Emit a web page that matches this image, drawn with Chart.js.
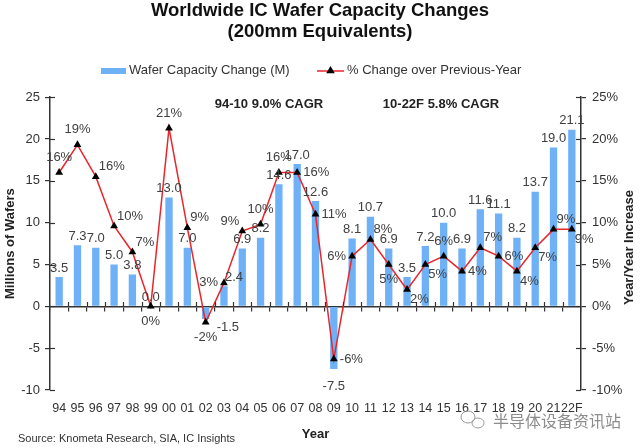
<!DOCTYPE html>
<html>
<head>
<meta charset="utf-8">
<title>Worldwide IC Wafer Capacity Changes</title>
<script src="https://cdn.jsdelivr.net/npm/chart.js@4.4.1/dist/chart.umd.min.js"></script>
<style>
  body { margin: 0; background: #fff; }
  #wrap { width: 640px; height: 448px; }
</style>
</head>
<body>
<div id="wrap"><canvas id="graficoWafer" width="640" height="448"></canvas></div>
<script>
const years = ["94", "95", "96", "97", "98", "99", "00", "01", "02", "03", "04", "05", "06", "07", "08",
  "09", "10", "11", "12", "13", "14", "15", "16", "17", "18", "19", "20", "21", "22F"];

// millions of 200mm-equivalent wafers added per year
const capacityChange = [3.5, 7.3, 7.0, 5.0, 3.8, 0.0, 13.0, 7.0, -1.5, 2.4, 6.9, 8.2, 14.6, 17.0, 12.6,
  -7.5, 8.1, 10.7, 6.9, 3.5, 7.2, 10.0, 6.9, 11.6, 11.1, 8.2, 13.7, 19.0, 21.1];

// % change over previous year
const pctChange = [16.0, 19.3, 15.5, 9.6, 6.5, 0.0, 21.3, 9.4, -1.9, 2.8, 9.0, 9.8, 16.0, 16.0, 11.0,
  -6.3, 6.0, 8.0, 5.0, 2.0, 5.0, 6.0, 4.2, 7.0, 6.0, 4.2, 7.0, 9.2, 9.2];

const yTicks = [-10, -5, 0, 5, 10, 15, 20, 25];

// where each value label sits relative to its mark
const barLabelSide = ["n", "n", "n", "n", "n", "n", "n", "n", "se", "ne", "n", "n", "n", "n", "n",
  "s", "n", "n", "n", "n", "n", "n", "n", "n", "n", "n", "n", "n", "n"];
const lineLabelSide = ["n", "n", "ne", "ne", "ne", "s", "n", "ne", "s", "w", "nw", "n", "n", "e", "e",
  "e", "w", "ne", "s", "se", "se", "n", "e", "ne", "e", "se", "se", "ne", "se"];

const FONT = "'Liberation Sans', Arial, sans-serif";
const BLUE = "#6FB1F7";
const RED = "#E8262C";
const TXT = "#404040";

function triangulo(ctx, x, y, r) {
  ctx.beginPath();
  ctx.moveTo(x, y - r);
  ctx.lineTo(x + r * 0.95, y + r * 0.6);
  ctx.lineTo(x - r * 0.95, y + r * 0.6);
  ctx.closePath();
  ctx.fill();
}

function textoLado(ctx, txt, x, y, lado, pos) {
  const dx = lado.includes("e") ? 1 : lado.includes("w") ? -1 : 0;
  const dy = lado.includes("n") ? -1 : lado.includes("s") ? 1 : 0;
  ctx.textAlign = dx > 0 ? "left" : dx < 0 ? "right" : "center";
  ctx.textBaseline = "middle";
  const diag = dx !== 0 && dy !== 0;
  const ox = dx === 0 ? 0 : dx * (diag ? pos.dx || 0 : pos.ex || 0);
  const oy = dy === 0 ? 0 : dy * (diag ? pos.dy || 0 : pos.ny || 0);
  ctx.fillText(txt, x + ox, y + oy);
}

const rotulos = {
  id: "rotulos",
  afterDatasetsDraw(chart) {
    const ctx = chart.ctx;
    ctx.save();
    ctx.font = "13px " + FONT;
    ctx.fillStyle = TXT;
    chart.getDatasetMeta(0).data.forEach((bar, i) => {
      const lado = barLabelSide[i];
      const v = capacityChange[i];
      if (lado === "n") textoLado(ctx, v.toFixed(1), bar.x, bar.y, "n", { ny: 9 });
      else if (lado === "s") textoLado(ctx, v.toFixed(1), bar.x, bar.y, "s", { ny: 17 });
      else textoLado(ctx, v.toFixed(1), bar.x + 1, bar.y, lado, { dx: lado === "se" ? 10 : 0, dy: 9 });
    });
    chart.getDatasetMeta(1).data.forEach((pt, i) => {
      const txt = Math.round(pctChange[i]) + "%";
      textoLado(ctx, txt, pt.x, pt.y, lineLabelSide[i], { ex: 6, ny: 15, dx: 3, dy: 10 });
    });
    ctx.restore();
  },
  afterDraw(chart) {
    const ctx = chart.ctx;
    const area = chart.chartArea;
    ctx.save();
    // ticks crossing the axis lines
    ctx.strokeStyle = "#333";
    ctx.lineWidth = 1.2;
    ["y", "y1"].forEach(id => {
      const s = chart.scales[id];
      const x0 = id === "y" ? area.left : area.right;
      const dir = id === "y" ? 1 : -1;
      s.ticks.forEach(t => {
        const py = Math.round(s.getPixelForValue(t.value)) + 0.5;
        ctx.beginPath();
        ctx.moveTo(x0, py);
        ctx.lineTo(x0 + dir * 5, py);
        ctx.stroke();
      });
    });
    const sx = chart.scales.x;
    const zero = Math.round(chart.scales.y.getPixelForValue(0));
    const passo = sx.getPixelForValue(1) - sx.getPixelForValue(0);
    for (let i = 1; i < years.length; i++) {
      const px = Math.round(sx.getPixelForValue(i) - passo / 2) + 0.5;
      ctx.beginPath();
      ctx.moveTo(px, zero - 4);
      ctx.lineTo(px, zero);
      ctx.stroke();
    }

    // legend
    ctx.textBaseline = "middle";
    ctx.textAlign = "left";
    ctx.font = "13px " + FONT;
    ctx.fillStyle = BLUE;
    ctx.fillRect(101, 68, 25, 6);
    ctx.fillStyle = "#333";
    ctx.fillText("Wafer Capacity Change (M)", 129, 70);
    ctx.strokeStyle = RED;
    ctx.lineWidth = 1.5;
    ctx.beginPath();
    ctx.moveTo(317, 71);
    ctx.lineTo(344, 71);
    ctx.stroke();
    ctx.fillStyle = "#000";
    triangulo(ctx, 330.5, 70.5, 4.5);
    ctx.fillStyle = "#333";
    ctx.fillText("% Change over Previous-Year", 347, 70);

    // CAGR notes
    ctx.font = "bold 13px " + FONT;
    ctx.fillStyle = "#222";
    ctx.textAlign = "center";
    ctx.fillText("94-10 9.0% CAGR", 269, 104);
    ctx.fillText("10-22F 5.8% CAGR", 441, 104);

    // right axis title, reads bottom to top
    ctx.save();
    ctx.translate(629, (area.top + area.bottom) / 2 + 4);
    ctx.rotate(-Math.PI / 2);
    ctx.fillText("Year/Year Increase", 0, 0);
    ctx.restore();

    // source
    ctx.font = "11px " + FONT;
    ctx.fillStyle = "#333";
    ctx.textAlign = "left";
    ctx.fillText("Source: Knometa Research, SIA, IC Insights", 18, 439);

    // watermark
    ctx.font = "16px 'Noto Sans CJK SC', sans-serif";
    ctx.fillStyle = "#8c8c8c";
    ctx.fillText("半导体设备资讯站", 493, 421);
    ctx.strokeStyle = "#9a9a9a";
    ctx.lineWidth = 1;
    ctx.beginPath();
    ctx.ellipse(468, 417, 7, 6, 0, 0, Math.PI * 2);
    ctx.stroke();
    ctx.beginPath();
    ctx.ellipse(478, 423, 6, 5, 0, 0, Math.PI * 2);
    ctx.stroke();
    ctx.restore();
  }
};

new Chart(document.getElementById("graficoWafer"), {
  data: {
    labels: years,
    datasets: [{
      type: "bar",
      label: "Wafer Capacity Change (M)",
      data: capacityChange,
      backgroundColor: BLUE,
      barPercentage: 0.4,
      categoryPercentage: 1,
      xAxisID: "x",
      yAxisID: "y",
      order: 2
    }, {
      type: "line",
      label: "% Change over Previous-Year",
      data: pctChange,
      borderColor: RED,
      borderWidth: 1.5,
      pointStyle: "triangle",
      pointRadius: 4.5,
      pointBackgroundColor: "#000",
      pointBorderColor: "#000",
      pointBorderWidth: 0,
      tension: 0,
      xAxisID: "x",
      yAxisID: "y1",
      order: 1
    }]
  },
  options: {
    responsive: false,
    animation: false,
    layout: { padding: { left: 0, right: 0, top: 0, bottom: 6 } },
    plugins: {
      legend: { display: false },
      tooltip: { enabled: false },
      title: {
        display: true,
        text: ["Worldwide IC Wafer Capacity Changes", "(200mm Equivalents)"],
        color: "#111",
        font: { family: FONT, size: 18.5, weight: "bold", lineHeight: 1.14 },
        padding: { top: 0, bottom: 55 }
      }
    },
    scales: {
      x: {
        type: "category",
        position: { y: 0 },
        offset: true,
        grid: { offset: true, drawOnChartArea: false, tickLength: 4, color: "#333", lineWidth: 1.2 },
        border: { color: "#333", width: 1.5 },
        ticks: { display: false }
      },
      xl: {
        type: "category",
        position: "bottom",
        offset: true,
        grid: { display: false, drawTicks: false },
        border: { display: false },
        ticks: { color: "#333", font: { family: FONT, size: 12.5 }, padding: 11, autoSkip: false, maxRotation: 0, minRotation: 0 },
        title: { display: true, text: "Year", color: "#222", font: { family: FONT, size: 13, weight: "bold" }, padding: { top: 10, bottom: 0 } },
        afterFit: s => { s.height = 52; }
      },
      y: {
        position: "left",
        min: -10,
        max: 25,
        afterBuildTicks: s => { s.ticks = yTicks.map(v => ({ value: v })); },
        grid: { drawOnChartArea: false, tickLength: 5, color: "#333", lineWidth: 1.2 },
        border: { color: "#333", width: 1.5 },
        ticks: { color: "#333", font: { family: FONT, size: 13 }, padding: 5 },
        title: { display: true, text: "Millions of Wafers", color: "#222", font: { family: FONT, size: 13, weight: "bold" }, padding: { top: 3, bottom: 0 } },
        afterFit: s => { s.width = 50; }
      },
      y1: {
        position: "right",
        min: -10,
        max: 25,
        afterBuildTicks: s => { s.ticks = yTicks.map(v => ({ value: v })); },
        grid: { drawOnChartArea: false, tickLength: 5, color: "#333", lineWidth: 1.2 },
        border: { color: "#333", width: 1.5 },
        ticks: { color: "#333", font: { family: FONT, size: 13 }, padding: 6, callback: v => v + "%" },
        afterFit: s => { s.width = 59; }
      }
    }
  },
  plugins: [rotulos]
});
</script>
</body>
</html>
